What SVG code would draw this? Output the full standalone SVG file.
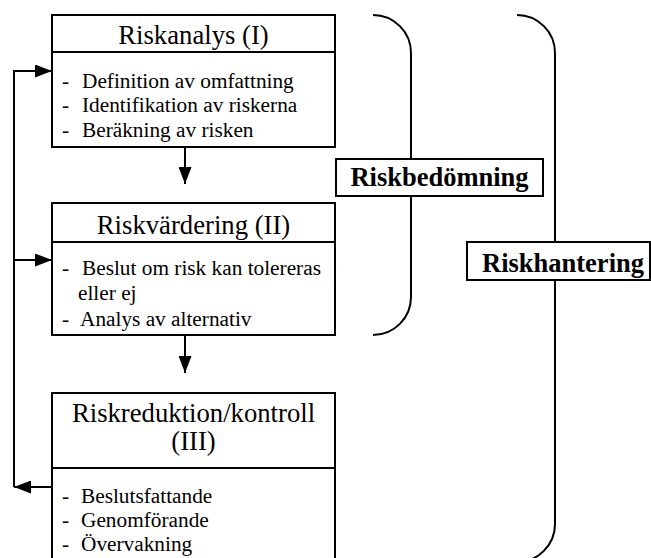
<svg xmlns="http://www.w3.org/2000/svg" width="651" height="558" viewBox="0 0 651 558">
<style>
.box{fill:#fff;stroke:#000;stroke-width:2}
.ln{fill:none;stroke:#000;stroke-width:2}
.t{font-family:"Liberation Serif","Times New Roman",serif;fill:#000}
.title{font-size:26.7px;text-anchor:middle}
.item{font-size:21.3px}
.lab{font-size:26.5px;font-weight:bold;text-anchor:middle}
</style>
<defs>
<marker id="ah" viewBox="0 0 17 13" refX="17" refY="6.5" markerWidth="17" markerHeight="13" markerUnits="userSpaceOnUse" orient="auto">
<path d="M0,0 L17,6.5 L0,13 z" fill="#000"/>
</marker>
</defs>
<rect width="651" height="558" fill="#fff"/>
<g id="brackets">
<path class="ln" d="M373,15 A38,38 0 0 1 411,53 L411,297 A38,38 0 0 1 373,335"/>
<path class="ln" d="M517,15 A38,38 0 0 1 555,53 L555,524 A38,38 0 0 1 517,562"/>
</g>
<g id="connectors">
<line class="ln" x1="185" y1="147" x2="185" y2="184" marker-end="url(#ah)"/>
<line class="ln" x1="185" y1="335" x2="185" y2="373" marker-end="url(#ah)"/>
<line class="ln" x1="52" y1="487" x2="14" y2="487" marker-end="url(#ah)"/>
<path class="ln" d="M14,487 L14,71 L52,71" marker-end="url(#ah)"/>
<line class="ln" x1="14" y1="260" x2="52" y2="260" marker-end="url(#ah)"/>
</g>
<g id="riskanalys">
<rect class="box" x="52" y="15" width="283" height="132"/>
<line class="ln" x1="52" y1="52" x2="335" y2="52"/>
<text class="t title" x="193.5" y="44">Riskanalys (I)</text>
<text class="t item" y="88"><tspan x="62">-</tspan><tspan x="82">Definition av omfattning</tspan></text>
<text class="t item" y="112"><tspan x="62">-</tspan><tspan x="82">Identifikation av riskerna</tspan></text>
<text class="t item" y="137"><tspan x="62">-</tspan><tspan x="82">Beräkning av risken</tspan></text>
</g>
<g id="riskvardering">
<rect class="box" x="52" y="203" width="283" height="132"/>
<line class="ln" x1="52" y1="242" x2="335" y2="242"/>
<text class="t title" x="193.5" y="234">Riskvärdering (II)</text>
<text class="t item" y="275"><tspan x="62">-</tspan><tspan x="82">Beslut om risk kan tolereras</tspan></text>
<text class="t item" x="78" y="300">eller ej</text>
<text class="t item" y="326"><tspan x="62">-</tspan><tspan x="80">Analys av alternativ</tspan></text>
</g>
<g id="riskreduktion">
<rect class="box" x="52" y="393" width="283" height="180"/>
<line class="ln" x1="52" y1="468" x2="335" y2="468"/>
<text class="t title" x="193.5" y="422">Riskreduktion/kontroll</text>
<text class="t title" x="193.5" y="450">(III)</text>
<text class="t item" y="503"><tspan x="62">-</tspan><tspan x="81">Beslutsfattande</tspan></text>
<text class="t item" y="527"><tspan x="62">-</tspan><tspan x="81">Genomförande</tspan></text>
<text class="t item" y="551"><tspan x="62">-</tspan><tspan x="81">Övervakning</tspan></text>
</g>
<g id="riskbedomning">
<rect class="box" x="336" y="159" width="207" height="37"/>
<text class="t lab" x="439.5" y="186">Riskbedömning</text>
</g>
<g id="riskhantering">
<rect class="box" x="467" y="242" width="183" height="38"/>
<text class="t lab" x="563" y="272">Riskhantering</text>
</g>
</svg>
